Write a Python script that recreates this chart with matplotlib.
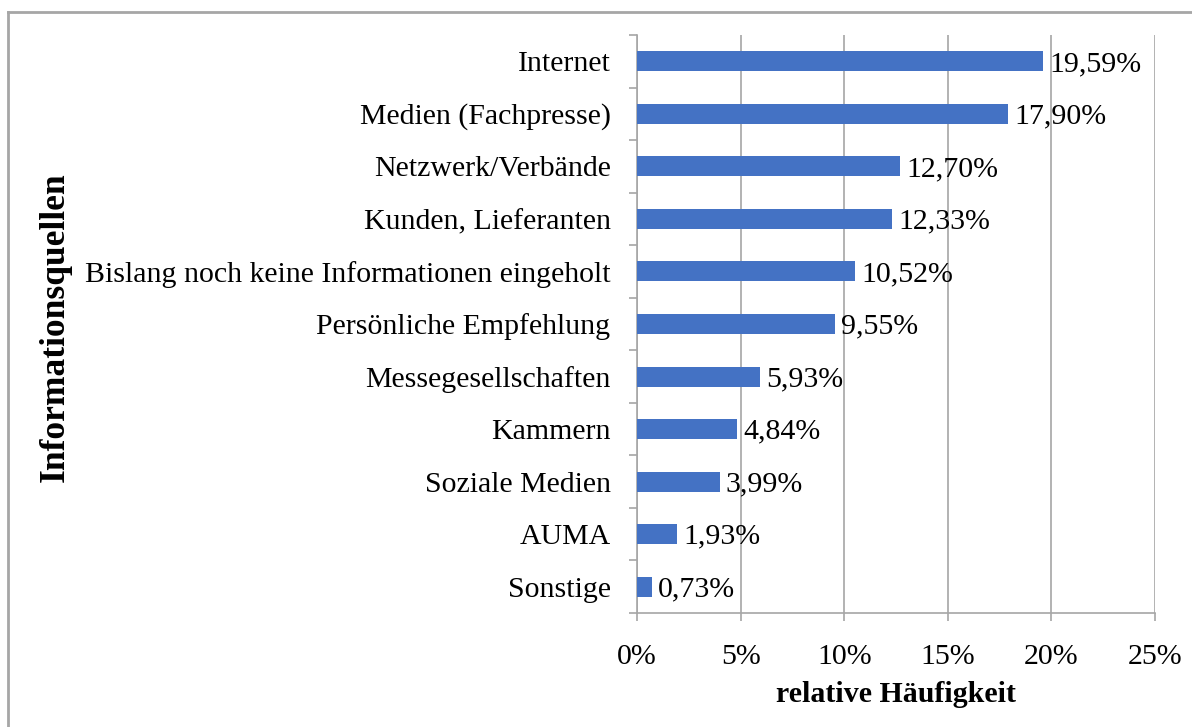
import matplotlib
matplotlib.use("Agg")
import matplotlib.pyplot as plt
from matplotlib.lines import Line2D
from matplotlib.ticker import FixedLocator, FuncFormatter

categories = ["Internet", "Medien (Fachpresse)", "Netzwerk/Verbände", "Kunden, Lieferanten",
              "Bislang noch keine Informationen eingeholt", "Persönliche Empfehlung",
              "Messegesellschaften", "Kammern", "Soziale Medien", "AUMA", "Sonstige"]
values = [19.59, 17.90, 12.70, 12.33, 10.52, 9.55, 5.93, 4.84, 3.99, 1.93, 0.73]
x_ticks = [0, 5, 10, 15, 20, 25]

plt.rcParams['font.family'] = ['Liberation Serif', 'DejaVu Serif']

fig = plt.figure(figsize=(11.92, 7.27), dpi=100)
ax = fig.add_axes([637/1192, 1 - 613/727, (1155-637)/1192, (613-35)/727])

grey = '#A6A6A6'
n = len(categories)
pos = list(range(n))
ax.barh(pos, values, height=0.38, color='#4472C4', zorder=3)
ax.set_ylim(n - 0.5, -0.5)
ax.set_xlim(0, 25)

fs = 21.5
for p, v in zip(pos, values):
    ax.text(v + 0.3, p + 0.05, f"{v:.2f}%".replace('.', ','), va='center', ha='left',
            fontsize=fs, zorder=4)

ax.set_yticks(pos)
ax.set_yticklabels(categories, fontsize=fs)
ax.yaxis.set_minor_locator(FixedLocator([i - 0.5 for i in range(n + 1)]))
ax.tick_params(axis='y', which='major', length=0, pad=19)
ax.tick_params(axis='y', which='minor', length=6, color=grey, width=1.2)

ax.set_xticks(x_ticks)
ax.xaxis.set_major_formatter(FuncFormatter(lambda x, _: f"{int(x)}%"))
ax.tick_params(axis='x', which='major', length=6, color=grey, width=1.2, pad=16, labelsize=fs)

ax.grid(axis='x', color=grey, linewidth=1.2, zorder=0)
for s in ['top', 'right']:
    ax.spines[s].set_visible(False)
for s in ['left', 'bottom']:
    ax.spines[s].set_color(grey)
    ax.spines[s].set_linewidth(1.2)

ax.set_xlabel("relative Häufigkeit", fontsize=21.5, fontweight='bold', labelpad=8)
fig.text(55/1192, 1 - 327/727, "Informationsquellen", rotation=90, fontsize=25.5,
         fontweight='bold', ha='center', va='center')

# figure border (left and top visible)
fig.add_artist(Line2D([8/1192, 8/1192], [0, 1 - 12/727], transform=fig.transFigure,
                      color=grey, linewidth=2))
fig.add_artist(Line2D([8/1192, 1], [1 - 12/727, 1 - 12/727], transform=fig.transFigure,
                      color=grey, linewidth=2))

fig.savefig("out.png", dpi=100)
